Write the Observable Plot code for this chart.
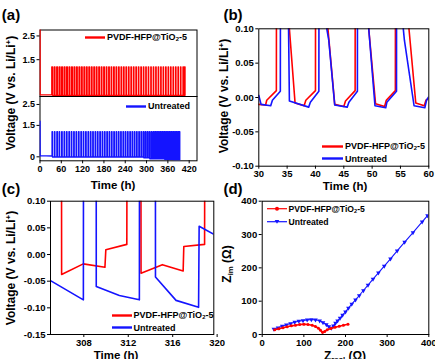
<!DOCTYPE html>
<html><head><meta charset="utf-8">
<script src="https://cdn.jsdelivr.net/npm/d3@7"></script>
<script src="https://cdn.jsdelivr.net/npm/@observablehq/plot@0.6"></script>
<style>
html,body{margin:0;padding:0;background:#fff;}
#root{position:relative;width:435px;height:359px;overflow:hidden;font-family:"Liberation Sans",Arial,sans-serif;font-weight:bold;color:#000;}
.p{position:absolute;}
.p svg{display:block;max-width:none;overflow:visible;}
#root svg text{font-family:"Liberation Sans",Arial,sans-serif;font-weight:bold;fill:#000;}
.t{position:absolute;white-space:nowrap;line-height:1;}
.rot{transform:translate(-50%,-50%) rotate(-90deg);}
.ctr{transform:translate(-50%,-50%);}
.lg{position:absolute;white-space:nowrap;line-height:1;display:flex;align-items:center;transform:translateY(-50%);}
sub{font-size:0.65em;vertical-align:-0.3em;line-height:0;}
sup{font-size:0.65em;vertical-align:0.5em;line-height:0;}
</style></head><body><div id="root"></div>
<script>
// ---------- Panel (a): long-term cycling ----------
const aXTicks = [0, 60, 120, 180, 240, 300, 360, 420];
const aYTicksTop = [1.5, 2.5];
const aYTicksBottom = [0, 1.5, 2.5];
const aHigh = 1.2;
const aRedStart = [[0, 0.02], [0.05, 2.9], [0.4, 0.03], [33.1, 0.02]];
const aRedCycles = [
[33.2,35.3],[40.1,42.1],[47.1,49.3],[54.2,56.4],[61.1,63.2],[68.1,70.2],[75.0,77.1],[82.0,84.0],[89.0,91.0],[95.9,97.9],
[102.9,104.8],[109.9,111.8],[116.8,118.7],[123.8,125.7],[130.8,132.6],[137.7,139.5],[144.7,146.5],[151.7,153.4],[158.6,160.3],[165.6,167.3],
[172.6,174.2],[179.5,181.1],[186.5,188.1],[193.5,195.0],[200.4,201.9],[207.4,208.9],[214.3,215.8],[221.3,222.7],[228.3,229.7],[235.2,236.6],
[242.2,243.5],[249.2,250.5],[256.1,257.4],[263.1,264.4],[270.1,271.3],[277.0,278.2],[284.0,285.2],[291.0,292.2],[297.9,299.0],[304.9,305.95],
[312.0,313.1],[319.0,320.1],[325.9,327.0],[332.9,334.0],[339.9,341.0],[346.8,347.9],[353.8,354.9],[360.8,361.9],[367.7,368.8],[374.7,375.8],
[381.7,382.8],[388.6,389.7],[395.6,396.7],[402.6,404.0],[406.8,408.3]
];
const aBlueStart = [[0, 0.04], [0.05, 1.7], [0.4, 0.06], [33.9, 0.04]];
const aBlueCycles = [
[33.95,35.2,-0.01],[40.75,41.9,-0.01],[47.5,49.3,-0.01],[54.4,55.4,-0.01],[61.1,62.4,-0.01],[67.9,69.2,-0.01],[74.7,76.0,-0.01],[81.5,82.8,-0.01],[88.2,89.5,-0.01],[95.0,96.3,-0.01],
[101.7,103.0,-0.01],[108.5,109.8,-0.01],[115.2,116.5,-0.01],[121.9,123.2,-0.01],[128.6,129.9,-0.01],[135.3,136.6,-0.01],[142.0,143.3,-0.01],[148.6,149.9,-0.01],[155.3,156.6,-0.01],[161.9,163.2,-0.01],
[168.5,169.8,-0.01],[175.1,176.4,-0.01],[181.7,183.0,-0.01],[188.3,189.6,-0.01],[194.8,196.1,-0.01],[201.4,202.7,-0.01],[207.9,209.2,-0.01],[214.4,215.7,-0.01],[220.9,222.2,-0.01],[227.3,228.6,-0.01],
[233.8,235.1,-0.01],[240.2,241.5,-0.01],[246.6,247.9,-0.01],[253.0,254.3,-0.01],[259.3,260.6,-0.01],[265.7,267.0,-0.01],[272.0,273.3,-0.01],[278.3,279.6,-0.01],[284.4,285.7,-0.01],[290.4,292.2,-0.05],
[296.3,298.0,-0.05],[302.2,303.9,-0.05],[308.0,309.1,-0.09],[313.1,314.45,-0.09],[318.3,320.6,-0.09],[323.4,325.9,-0.1],[328.5,331.0,-0.1],[333.6,336.1,-0.1],[338.6,341.2,-0.1],[343.7,346.3,-0.1],
[348.7,351.3,-0.13],[353.8,356.4,-0.13],[358.8,361.4,-0.13],[363.8,366.5,-0.13],[368.9,371.5,-0.13],[373.9,376.6,-0.17],[378.9,381.6,-0.17],[383.9,386.6,-0.17],[388.9,391.2,-0.17],[392.0,393.5,-0.22]
];

// ---------- Panel (b): 30-60 h detail ----------
const bXTicks = [30, 35, 40, 45, 50, 55, 60];
const bYTicks = [-0.10, -0.05, 0, 0.05, 0.10];
const bRed = [
[30,-0.010],[31.2,-0.011],[31.4,-0.004],[33.1,0.010],[33.25,1.2],[35.3,1.2],[35.4,0.1],[36.4,-0.008],[38.0,-0.012],[38.3,-0.004],
[40.0,0.010],[40.1,1.2],[42.1,1.2],[42.2,0.1],[43.4,-0.010],[45.0,-0.013],[45.3,-0.005],[47.0,0.010],[47.1,1.2],[49.3,1.2],
[49.4,0.1],[50.6,-0.009],[52.2,-0.013],[52.5,-0.004],[54.1,0.010],[54.2,1.2],[56.4,1.2],[56.5,0.1],[57.7,-0.008],[59.2,-0.012],
[59.5,-0.004],[60,-0.001]
];
const bBlue = [
[30,0.003],[30.4,-0.010],[32.1,-0.012],[32.4,-0.004],[33.8,0.009],[33.95,1.2],[35.2,1.2],[35.25,0.1],[35.4,-0.005],[38.8,-0.014],
[39.1,-0.007],[40.6,0.009],[40.75,1.2],[41.9,1.2],[42.0,0.1],[42.35,0.083],[43.4,-0.011],[45.6,-0.014],[45.9,-0.007],[47.4,0.009],
[47.5,1.2],[49.3,1.2],[49.4,0.1],[50.5,-0.012],[52.4,-0.015],[52.6,-0.007],[54.3,0.009],[54.4,1.2],[55.4,1.2],[55.5,0.1],
[55.7,0.083],[57.4,-0.012],[59.3,-0.015],[59.6,-0.004],[60,0.001]
];

// ---------- Panel (c): 305-320 h detail ----------
const cXTicks = [308, 312, 316, 320];
const cYTicks = [-0.15, -0.10, -0.05, 0, 0.05, 0.10];
const cRed = [
[305,1.2],[305.95,1.2],[306.0,-0.0375],[307.95,-0.0175],[309.9,-0.024],[309.98,0.009],[311.87,0.019],[311.97,1.2],[313.1,1.2],[313.15,-0.035],
[315.07,-0.019],[316.94,-0.031],[317.0,0.015],[318.87,0.019],[318.97,1.2],[320,1.2]
];
const cBlue = [
[305.0,-0.049],[307.96,-0.085],[308.0,1.2],[309.1,1.2],[309.12,-0.06],[311.2,-0.077],[313.0,-0.085],[313.05,1.2],[314.42,1.2],[314.45,-0.042],
[316.3,-0.086],[318.33,-0.099],[318.38,0.053],[319.8,0.037],[320,0.035]
];

// ---------- Panel (d): Nyquist plot ----------
const dTicks = [0, 100, 200, 300, 400];
const dRedZre = [30, 40, 50, 60, 70, 80, 90, 100, 110, 120, 128, 135, 140, 145, 150, 156, 165, 175, 185, 195, 206];
const dRedZim = [14, 17, 20, 23, 26, 28, 30, 31, 30, 28, 24, 19, 13, 6, 9, 14, 18, 22, 25, 28, 31];
const dBlueZre = [28, 38, 48, 58, 68, 78, 88, 98, 108, 118, 128, 138, 146, 154, 160, 166, 171, 176, 181, 187, 193, 200, 207, 215, 224, 233, 243, 254, 266, 279, 293, 308, 324, 342, 362, 384, 397];
const dBlueZim = [16, 20, 25, 29, 33, 37, 40, 42, 44, 45, 44, 41, 36, 30, 24, 19, 26, 34, 41, 49, 58, 68, 79, 91, 104, 117, 132, 148, 166, 185, 205, 227, 251, 277, 306, 338, 357];

// ---------- helpers ----------
const RED = "#ff0000", BLUE = "#1414ff";
const root = document.getElementById("root");
function place(node, left, top) {
  const d = document.createElement("div");
  d.className = "p"; d.style.left = left + "px"; d.style.top = top + "px";
  d.appendChild(node); root.appendChild(d);
}
function label(html, x, y, size, cls) {
  const d = document.createElement("div");
  d.className = "t " + (cls || "");
  d.style.left = x + "px"; d.style.top = y + "px"; d.style.fontSize = size + "px";
  d.innerHTML = html; root.appendChild(d);
}
function legend(html, x, y, size, color, lineW, marker) {
  const d = document.createElement("div");
  d.className = "lg"; d.style.left = x + "px"; d.style.top = y + "px"; d.style.fontSize = size + "px";
  let m = "";
  if (marker === "dot") m = `<circle cx="${lineW/2}" cy="4" r="2" fill="${color}"/>`;
  if (marker === "tri") m = `<path d="M${lineW/2-2.3},2.3 L${lineW/2+2.3},2.3 L${lineW/2},6 Z" fill="${color}"/>`;
  const sw = marker ? 1.2 : 2.4;
  d.innerHTML = `<svg width="${lineW}" height="8" style="margin-right:2px;overflow:visible"><line x1="0" x2="${lineW}" y1="4" y2="4" stroke="${color}" stroke-width="${sw}"/>${m}</svg><span>${html}</span>`;
  root.appendChild(d);
}
function cyclePoints(start, cycles, high, defLow) {
  const pts = start.slice();
  let low = start[start.length - 1][1];
  for (const c of cycles) {
    pts.push([c[0], low], [c[0], high], [c[1], high]);
    low = c.length > 2 ? c[2] : defLow;
    pts.push([c[1], low]);
  }
  return pts;
}
const f2 = d => d.toFixed(2);
const baseStyle = size => ({fontSize: size + "px", background: "transparent", overflow: "visible"});
const X = d => d[0], Y = d => d[1];

// ---------- (a) upper ----------
const aRedPts = cyclePoints(aRedStart, aRedCycles, aHigh, 0.0);
place(Plot.plot({
  width: 200, height: 76, marginLeft: 39.5, marginRight: 3.5, marginTop: 9.5, marginBottom: 0,
  x: {domain: [0, 442], axis: null}, y: {domain: [-0.05, 2.75]},
  style: baseStyle(9),
  marks: [
    Plot.frame({stroke: "#000", strokeWidth: 1}),
    Plot.line(aRedPts, {x: X, y: Y, stroke: RED, strokeWidth: 1.35, clip: true}),
    Plot.axisY({ticks: aYTicksTop, tickSize: 3, tickPadding: 2, tickFormat: d => String(d), label: null})
  ]
}), 0, 20);

// ---------- (a) lower ----------
const aBluePts = cyclePoints(aBlueStart, aBlueCycles, aHigh, -0.01);
place(Plot.plot({
  width: 200, height: 100, marginLeft: 39.5, marginRight: 3.5, marginTop: 0, marginBottom: 35.7,
  x: {domain: [0, 442]}, y: {domain: [-0.19, 2.88]},
  style: baseStyle(9),
  marks: [
    Plot.frame({stroke: "#000", strokeWidth: 1}),
    Plot.line(aBluePts, {x: X, y: Y, stroke: BLUE, strokeWidth: 1.35, clip: true}),
    Plot.axisY({ticks: aYTicksBottom, tickSize: 3, tickPadding: 2, tickFormat: d => String(d), label: null}),
    Plot.axisX({ticks: aXTicks, tickSize: 3, tickPadding: 1.5, tickFormat: d => String(d), label: null})
  ]
}), 0, 96);

// ---------- (b) ----------
place(Plot.plot({
  width: 220, height: 190, marginLeft: 43.3, marginRight: 6.7, marginTop: 28.3, marginBottom: 24.3,
  x: {domain: [30, 60]}, y: {domain: [-0.1, 0.1]},
  style: baseStyle(9.5),
  marks: [
    Plot.line(bRed, {x: X, y: Y, stroke: RED, strokeWidth: 1.6, clip: true}),
    Plot.line(bBlue, {x: X, y: Y, stroke: BLUE, strokeWidth: 1.6, clip: true}),
    Plot.frame({stroke: "#000", strokeWidth: 1}),
    Plot.axisX({ticks: bXTicks, tickSize: 3, tickPadding: 1.5, tickFormat: d => String(d), label: null}),
    Plot.axisY({ticks: bYTicks, tickSize: 3, tickPadding: 2, tickFormat: f2, label: null})
  ]
}), 215, 0);

// ---------- (c) ----------
place(Plot.plot({
  width: 220, height: 184, marginLeft: 50, marginRight: 6.7, marginTop: 25.7, marginBottom: 25,
  x: {domain: [305, 319.7]}, y: {domain: [-0.15, 0.1]},
  style: baseStyle(9.5),
  marks: [
    Plot.line(cRed, {x: X, y: Y, stroke: RED, strokeWidth: 1.6, clip: true}),
    Plot.line(cBlue, {x: X, y: Y, stroke: BLUE, strokeWidth: 1.6, clip: true}),
    Plot.frame({stroke: "#000", strokeWidth: 1}),
    Plot.axisX({ticks: cXTicks, tickSize: 3, tickPadding: 1.5, tickFormat: d => String(d), label: null}),
    Plot.axisY({ticks: cYTicks, tickSize: 3, tickPadding: 2, tickFormat: f2, label: null})
  ]
}), 0, 175);

// ---------- (d) ----------
const dRed = dRedZre.map((z, i) => [z, dRedZim[i]]);
const dBlue = dBlueZre.map((z, i) => [z, dBlueZim[i]]);
place(Plot.plot({
  width: 220, height: 184, marginLeft: 46.7, marginRight: 6.7, marginTop: 25.7, marginBottom: 25,
  x: {domain: [0, 400]}, y: {domain: [0, 400]},
  style: baseStyle(9.5),
  marks: [
    Plot.line(dBlue, {x: X, y: Y, stroke: BLUE, strokeWidth: 1.1, clip: true}),
    Plot.dot(dBlue, {x: X, y: Y, fill: BLUE, symbol: "triangle", rotate: 180, r: 1.7, clip: true}),
    Plot.line(dRed, {x: X, y: Y, stroke: RED, strokeWidth: 1.6, clip: true}),
    Plot.dot(dRed, {x: X, y: Y, fill: RED, r: 1.5, clip: true}),
    Plot.frame({stroke: "#000", strokeWidth: 1}),
    Plot.axisX({ticks: dTicks, tickSize: 3, tickPadding: 1.5, tickFormat: d => String(d), label: null}),
    Plot.axisY({ticks: dTicks, tickSize: 3, tickPadding: 2, tickFormat: d => String(d), label: null})
  ]
}), 215, 175);

// ---------- text: panel letters, axis titles, legends ----------
const VLAB = "Voltage (V vs. Li/Li<sup>+</sup>)";
const PV = "PVDF-HFP@TiO<sub>2</sub>-5";
label("(a)", 11, 14, 15, "ctr");
label("(b)", 233, 14, 15, "ctr");
label("(c)", 11, 188, 15, "ctr");
label("(d)", 233, 188, 15, "ctr");
label(VLAB, 11, 93, 12, "rot");
label("Time (h)", 113, 186, 11.5, "ctr");
label(VLAB, 223.5, 96, 12, "rot");
label("Time (h)", 345, 186.5, 11.5, "ctr");
label(VLAB, 10.5, 268, 12, "rot");
label("Time (h)", 116, 356, 11.5, "ctr");
label("Z<sub>im</sub> (Ω)", 227, 264, 12, "rot");
label("Z<sub>real</sub> (Ω)", 345, 356, 12, "ctr");

legend(PV, 85, 37, 9, RED, 20, null);
legend("Untreated", 126, 106, 9, BLUE, 20, null);
legend(PV, 322, 146, 9, RED, 21, null);
legend("Untreated", 322, 158.5, 9, BLUE, 21, null);
legend(PV, 111.5, 315, 9, RED, 20, null);
legend("Untreated", 111.5, 327.5, 9, BLUE, 20, null);
legend(PV, 266.5, 208.5, 8.6, RED, 20, "dot");
legend("Untreated", 266.5, 221.5, 8.6, BLUE, 20, "tri");
</script></body></html>
